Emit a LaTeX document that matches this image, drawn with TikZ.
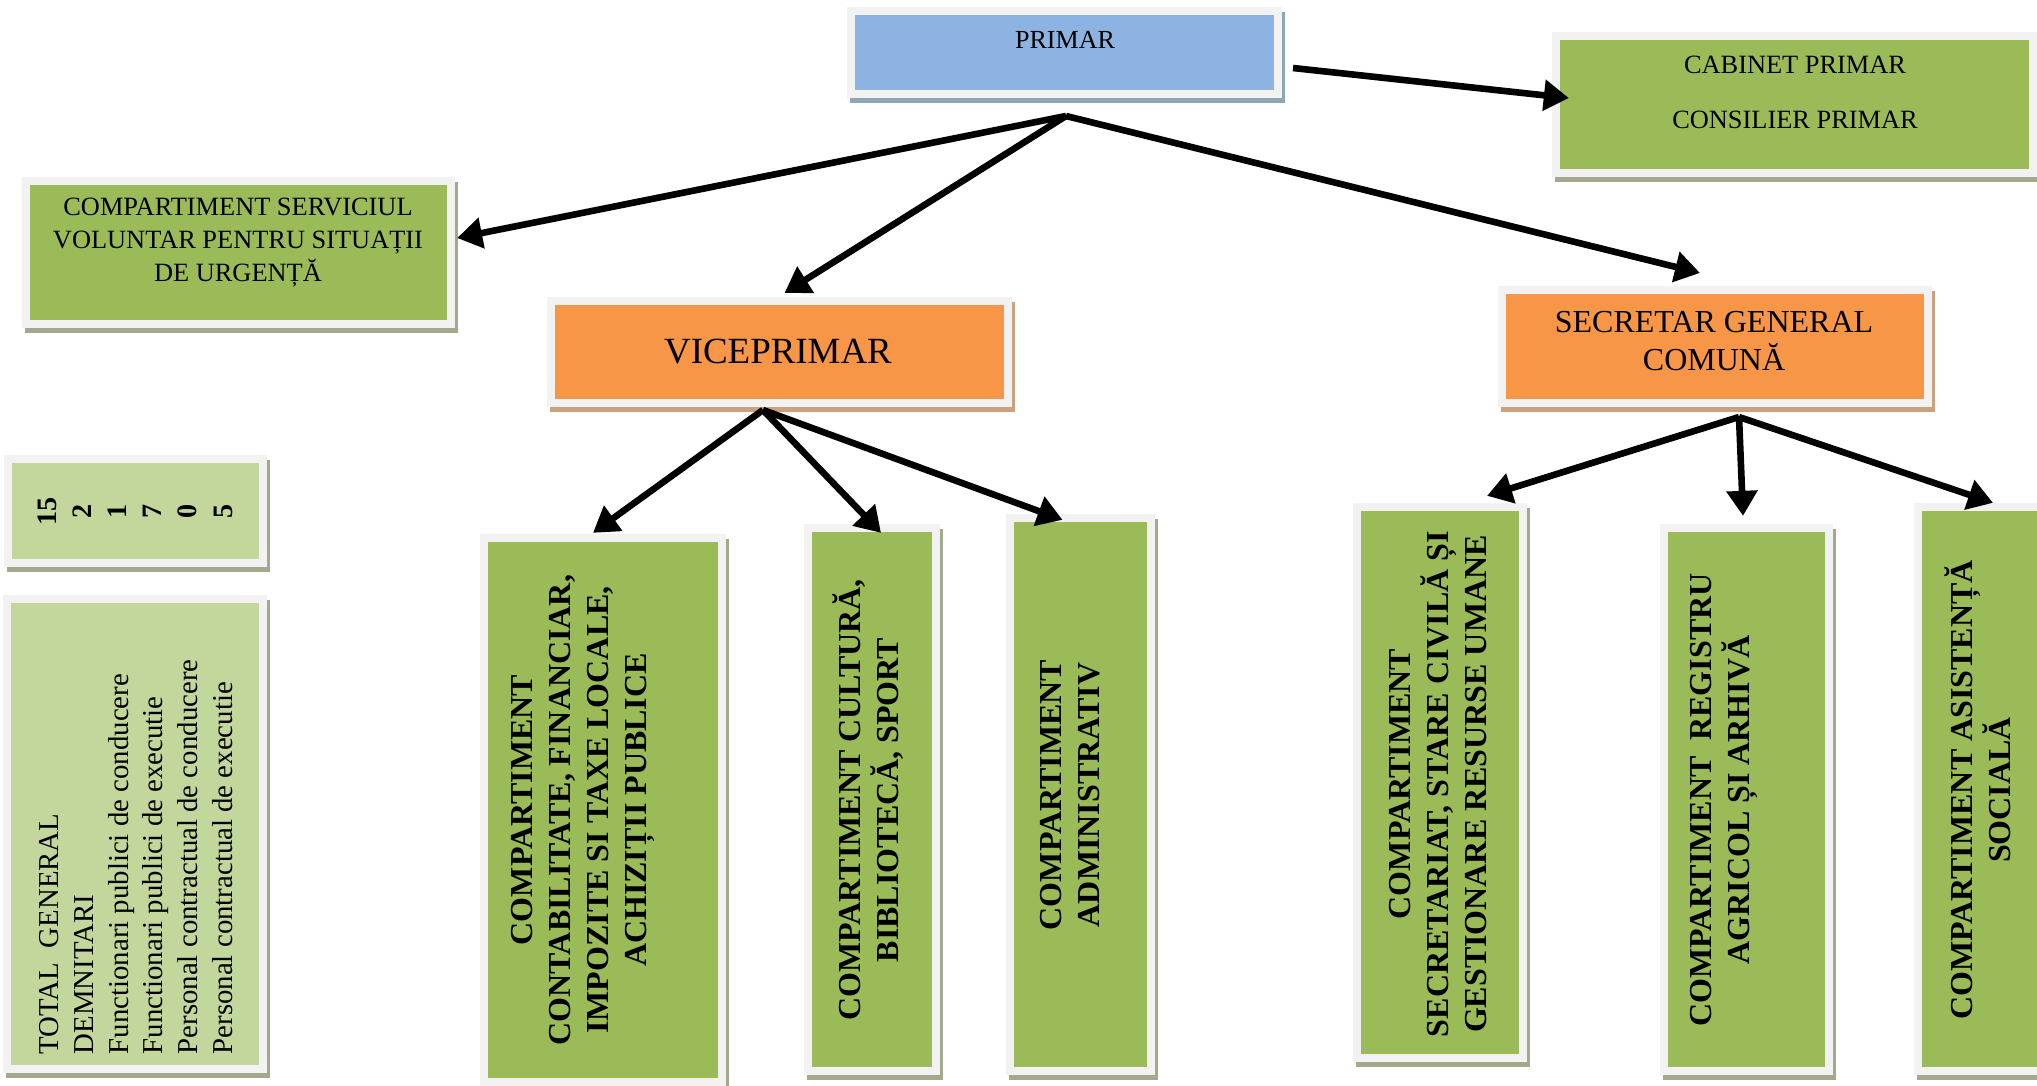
\documentclass[tikz,border=0pt]{standalone}
\usepackage{fontspec}
\setmainfont{Liberation Serif}
\usepackage{xcolor}
\usepackage{tikz}
\usetikzlibrary{arrows.meta, shadows, calc}

\definecolor{boxblue}{HTML}{8DB3E2}
\definecolor{boxgreen}{HTML}{9BBB59}
\definecolor{boxlight}{HTML}{C3D69B}
\definecolor{boxorange}{HTML}{F79646}
\definecolor{framegray}{HTML}{F2F2F2}
\definecolor{shgreen}{HTML}{A2A98D}
\definecolor{shorange}{HTML}{CDA07E}
\definecolor{shblue}{HTML}{8CA6B4}

\tikzset{
  box/.style={draw=framegray, line width=0.08cm, inner sep=0pt},
  shade/.style={general shadow={fill=#1, draw=#1, line width=0.08cm,
      shadow xshift=0.03cm, shadow yshift=-0.05cm}},
  bluebox/.style={box, fill=boxblue, shade=shblue},
  greenbox/.style={box, fill=boxgreen, shade=shgreen},
  lightbox/.style={box, fill=boxlight, shade=shgreen},
  orangebox/.style={box, fill=boxorange, shade=shorange},
  htxt/.style={align=center, inner sep=0pt},
  vtxt/.style={rotate=90, align=center, inner sep=0pt,
      font=\bfseries\fontsize{9.1}{10.8}\selectfont},
  arr/.style={-{Triangle[length=0.25cm, width=0.3cm]}, line width=0.066cm}
}

\begin{document}
\begin{tikzpicture}[x=0.01cm, y=-0.01cm]
  \clip (0,0) rectangle (2037,1085);
  \fill[white] (0,0) rectangle (2037,1085);

  % boxes
  \node[bluebox, minimum width=4.27cm, minimum height=0.83cm] (primar) at (1064.5,52.5) {};
  \node[greenbox, minimum width=4.77cm, minimum height=1.37cm] (cab) at (1794.5,104.5) {};
  \node[greenbox, minimum width=4.25cm, minimum height=1.43cm] (serv) at (238.5,252.5) {};
  \node[lightbox, minimum width=2.55cm, minimum height=1.04cm] (num) at (135.5,511) {};
  \node[lightbox, minimum width=2.56cm, minimum height=4.70cm] (tot) at (135,834) {};
  \node[orangebox, minimum width=4.57cm, minimum height=1.02cm] (vp) at (779.5,352) {};
  \node[orangebox, minimum width=4.26cm, minimum height=1.13cm] (sg) at (1715,346.5) {};
  \node[greenbox, minimum width=2.38cm, minimum height=5.44cm] (ca) at (603,810) {};
  \node[greenbox, minimum width=1.28cm, minimum height=5.43cm] (cu) at (872,799.5) {};
  \node[greenbox, minimum width=1.41cm, minimum height=5.53cm] (adm) at (1080.5,794.5) {};
  \node[greenbox, minimum width=1.66cm, minimum height=5.51cm] (sec) at (1440,782.5) {};
  \node[greenbox, minimum width=1.65cm, minimum height=5.43cm] (reg) at (1746.5,799.5) {};
  \node[greenbox, minimum width=1.68cm, minimum height=5.64cm] (asist) at (2002,789) {};

  % texts
  \node[htxt, font=\fontsize{7.4}{9}\selectfont] (primarT) at (1065,40) {PRIMAR};
  \node[htxt, font=\fontsize{7.5}{15.6}\selectfont] (cabT) at (1795,92.5) {CABINET PRIMAR\\CONSILIER PRIMAR};
  \node[htxt, font=\fontsize{7.5}{9.4}\selectfont] (servT) at (238,243)
    {COMPARTIMENT SERVICIUL\\VOLUNTAR PENTRU SITUAȚII\\DE URGENȚĂ};
  \node[htxt, font=\fontsize{10.5}{12}\selectfont] (vpT) at (778,352) {VICEPRIMAR};
  \node[htxt, font=\fontsize{9.1}{10.8}\selectfont] (sgT) at (1714,341) {SECRETAR GENERAL\\COMUNĂ};
  \node[rotate=90, align=center, inner sep=0pt, font=\bfseries\fontsize{8}{10}\selectfont] (numT) at (135,511)
    {15\\2\\1\\7\\0\\5};
  \node[rotate=90, anchor=west, align=left, inner sep=0pt, font=\fontsize{8.2}{9.9}\selectfont] (totT) at (136,1055)
    {TOTAL\ \ GENERAL\\DEMNITARI\\Functionari publici de conducere\\Functionari publici de executie\\Personal contractual de conducere\\Personal contractual de executie};
  \node[vtxt] (caT) at (583,810)
    {COMPARTIMENT\\CONTABILITATE, FINANCIAR,\\IMPOZITE SI TAXE LOCALE,\\ACHIZIȚII PUBLICE};
  \node[vtxt] (cuT) at (868,800) {COMPARTIMENT CULTURĂ,\\BIBLIOTECĂ, SPORT};
  \node[vtxt] (admT) at (1070,795) {COMPARTIMENT\\ADMINISTRATIV};
  \node[vtxt] (secT) at (1438.5,784)
    {COMPARTIMENT\\SECRETARIAT, STARE CIVILĂ ȘI\\GESTIONARE RESURSE UMANE};
  \node[vtxt] (regT) at (1723.5,800) {COMPARTIMENT\ \ REGISTRU\\AGRICOL ȘI ARHIVĂ};
  \node[vtxt] (asistT) at (1978,790) {COMPARTIMENT ASISTENȚĂ\\SOCIALĂ};

  % arrows
  \coordinate (pr1) at (1293,68);
  \coordinate (pt) at (1066,116);
  \coordinate (vt) at (763,410);
  \coordinate (st) at (1739,417);
  \draw[arr] (pr1) -- ($(cab.west)+(17,-6.5)$);
  \draw[arr] (pt) -- ($(serv.east)+(2,-14.5)$);
  \draw[arr] (pt) -- ($(vp.north)+(5,-4)$);
  \draw[arr] (pt) -- ($(sg.north)+(-15,-13)$);
  \draw[arr] (vt) -- ($(ca.north)+(-10,-1)$);
  \draw[arr] (vt) -- ($(cu.north)+(9,9)$);
  \draw[arr] (vt) -- ($(adm.north)+(-18,6)$);
  \draw[arr] (st) -- ($(sec.north)+(47,-7)$);
  \draw[arr] (st) -- ($(reg.north)+(-3.5,-8)$);
  \draw[arr] (st) -- ($(asist.north)+(-9,0)$);
\end{tikzpicture}
\end{document}
